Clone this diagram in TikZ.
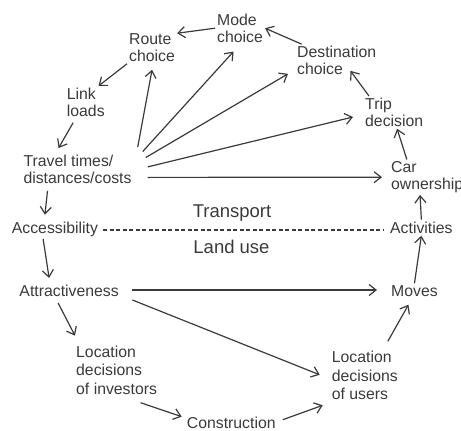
\documentclass[tikz,border=0pt]{standalone}
\usepackage{fontspec}
\setmainfont{Liberation Sans}
\usetikzlibrary{arrows.meta}
\definecolor{ink}{HTML}{3A3A3A}

\begin{document}
\begin{tikzpicture}
                [
                x=1pt,y=-1pt,
                factor/.style={anchor=west,align=left,inner sep=2pt,text=ink,font=\fontsize{15.8}{16.7}\selectfont},
                factorlong/.style={factor,font=\fontsize{15.8}{18.5}\selectfont},
                layer/.style={text=ink,inner sep=2pt,font=\fontsize{18.5}{20}\selectfont},
                edge/.style={->,>={Straight Barb[length=7pt,width=11pt]},draw=ink,line width=1.2pt},
                divide/.style={draw=ink,line width=1.2pt,dash pattern=on 4pt off 2.5pt}
                ]
            \useasboundingbox (0,0) rectangle (461,431);
            \node[factor] (1) at (215,28.2) {Mode\\choice};
            \node[factor] (2) at (127,47.7) {Route\\choice};
            \node[factor] (3) at (295,60.5) {Destination\\choice};
            \node[factor] (4) at (64.7,102.3) {Link\\loads};
            \node[factor] (5) at (363,112.4) {Trip\\decision};
            \node[factor] (6) at (21.3,169.4) {Travel times/\\distances/costs};
            \node[factor] (7) at (389,177.2) {Car\\ownership};
            \node[factor] (8) at (9.7,229.3) {Accessibility};
            \node[factor] (9) at (388,227.7) {Activities};
            \node[factor] (10) at (17.3,291) {Attractiveness};
            \node[factor] (11) at (389,291) {Moves};
            \node[factorlong] (12) at (74,370.2) {Location\\decisions\\of investors};
            \node[factorlong] (13) at (329.7,375.8) {Location\\decisions\\of users};
            \node[factor] (14) at (184.7,422.7) {Construction};
            \node[layer] (15) at (232,213.5) {Transport};
            \node[layer] (16) at (231.5,246.5) {Land use};
            \draw[divide] ([shift={(3,0.7)}]8.east) -- ([shift={(-4,2.3)}]9.west);
            \draw[edge] (1.west) -- (2.30);
            \draw[edge] (3.155) -- (1.east);
            \draw[edge] (5.147) -- ([shift={(-28,-6)}]3.south east);
            \draw[edge] (7.139) -- (5.-80);
            \draw[edge] (9.north) -- (7.-112);
            \draw[edge] (11.north) -- (9.south);
            \draw[edge] ([shift={(23,-8)}]13.north) -- ([shift={(-6,6)}]11.south);
            \draw[edge] ([shift={(5,-3)}]14.east) -- ([shift={(-7,3)}]13.south west);
            \draw[edge] ([shift={(24,6)}]12.south) -- ([shift={(-3,-6)}]14.west);
            \draw[edge] ([shift={(-11,4)}]10.south) -- ([shift={(1,-8)}]12.north west);
            \draw[edge] (8.-141) -- ([shift={(-20,-5)}]10.north);
            \draw[edge] ([shift={(-30,5)}]6.south) -- ([shift={(-10,-5)}]8.north);
            \draw[edge] ([shift={(-12.6,4)}]4.south) -- ([shift={(-19,-5)}]6.north);
            \draw[edge] (2.south west) -- (4.52);
            \draw[edge] ([shift={(4,-6)}]6.north east) -- ([shift={(0,6)}]2.south);
            \draw[edge] ([shift={(9,-1.5)}]6.north east) -- ([shift={(-6.5,7)}]1.south);
            \draw[edge] ([shift={(12,4.5)}]6.north east) -- ([shift={(-7,-3)}]3.south west);
            \draw[edge] ([shift={(14,-2.5)}]6.east) -- ([shift={(-10,4.6)}]5.west);
            \draw[edge] ([shift={(14,8)}]6.east) -- ([shift={(-7,0)}]7.west);
            \draw[edge] ([shift={(11.5,-1)}]10.east) -- ([shift={(-12,-1)}]11.west);
            \draw[edge] ([shift={(11.5,9)}]10.east) -- ([shift={(-10,-1)}]13.west);
\end{tikzpicture}
\end{document}
